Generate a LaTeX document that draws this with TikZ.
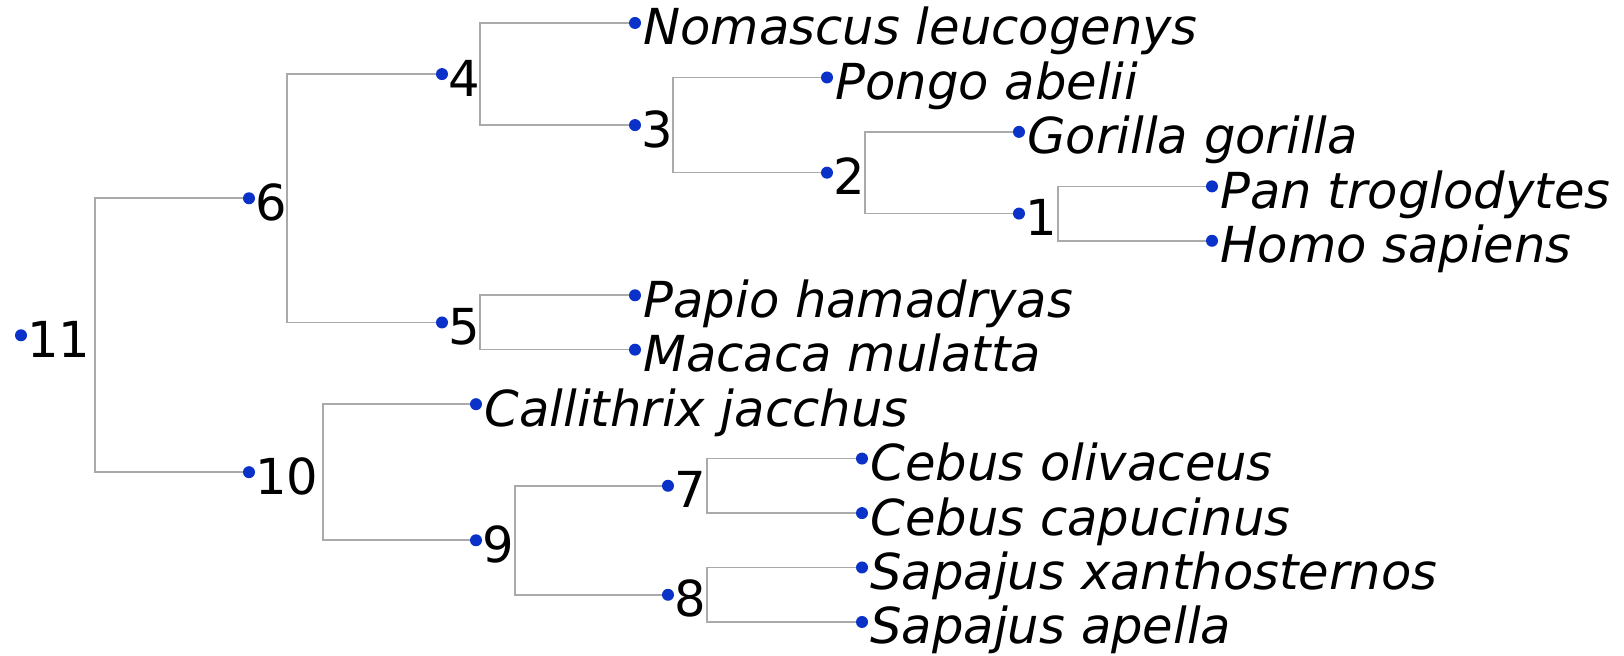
\documentclass[tikz,border=0pt]{standalone}
\usepackage{fontspec}
\setmainfont{DejaVu Sans}
\usetikzlibrary{calc}
\definecolor{dotblue}{RGB}{10,50,200}
\definecolor{branchgray}{RGB}{170,170,170}
\tikzset{
  dotnode/.style={circle, fill=dotblue, inner sep=0pt, minimum size=6pt},
  numlab/.style={anchor=base west, inner sep=0pt, font=\fontsize{24.8}{28}\selectfont},
  taxon/.style={anchor=base west, inner sep=0pt, font=\fontsize{24.8}{28}\selectfont\itshape},
  branch/.style={draw=branchgray, line width=0.8pt}
}
\begin{document}
\begin{tikzpicture}[x=0.5pt,y=-0.5pt]
\useasboundingbox (0,0) rectangle (1624,656);
% internal nodes
\node[dotnode] (d11) at (21,335.3) {};
\node[dotnode] (d6) at (249,198.3) {};
\node[dotnode] (d10) at (249,472.2) {};
\node[dotnode] (d4) at (442,74.1) {};
\node[dotnode] (d5) at (442,322.5) {};
\node[dotnode] (d3) at (635,125.1) {};
\node[dotnode] (d2) at (827,172.7) {};
\node[dotnode] (d1) at (1019,213.6) {};
\node[dotnode] (d9) at (476,540.3) {};
\node[dotnode] (d7) at (668,485.8) {};
\node[dotnode] (d8) at (668,594.8) {};
% leaves
\node[dotnode] (t0) at (635,23) {};
\node[dotnode] (t1) at (827,77.5) {};
\node[dotnode] (t2) at (1019,131.9) {};
\node[dotnode] (t3) at (1212,186.4) {};
\node[dotnode] (t4) at (1212,240.8) {};
\node[dotnode] (t5) at (635,295.3) {};
\node[dotnode] (t6) at (635,349.7) {};
\node[dotnode] (t7) at (476,404.2) {};
\node[dotnode] (t8) at (862,458.6) {};
\node[dotnode] (t9) at (862,513.1) {};
\node[dotnode] (t10) at (862,567.5) {};
\node[dotnode] (t11) at (862,622) {};
% number labels
\foreach \n in {1,...,11}{
  \node[numlab] (l\n) at ($(d\n)+(6,22)$) {\n};
}
% taxon labels
\node[taxon] (s0) at ($(t0)+(8,22)$) {Nomascus leucogenys};
\node[taxon] (s1) at ($(t1)+(8,22)$) {Pongo abelii};
\node[taxon] (s2) at ($(t2)+(8,22)$) {Gorilla gorilla};
\node[taxon] (s3) at ($(t3)+(8,22)$) {Pan troglodytes};
\node[taxon] (s4) at ($(t4)+(8,22)$) {Homo sapiens};
\node[taxon] (s5) at ($(t5)+(8,22)$) {Papio hamadryas};
\node[taxon] (s6) at ($(t6)+(8,22)$) {Macaca mulatta};
\node[taxon] (s7) at ($(t7)+(8,22)$) {Callithrix jacchus};
\node[taxon] (s8) at ($(t8)+(8,22)$) {Cebus olivaceus};
\node[taxon] (s9) at ($(t9)+(8,22)$) {Cebus capucinus};
\node[taxon] (s10) at ($(t10)+(8,22)$) {Sapajus xanthosternos};
\node[taxon] (s11) at ($(t11)+(8,22)$) {Sapajus apella};
% branch points
\coordinate (v11) at (95,335.3);
\coordinate (v6) at (287,198.3);
\coordinate (v4) at (480,74.1);
\coordinate (v3) at (673,125.1);
\coordinate (v2) at (865,172.7);
\coordinate (v1) at (1058,213.6);
\coordinate (v5) at (480,322.5);
\coordinate (v10) at (323,472.2);
\coordinate (v9) at (515,540.3);
\coordinate (v7) at (707,485.8);
\coordinate (v8) at (707,594.8);
% connectors
\draw[branch] (d6) -| (v11) |- (d10);
\draw[branch] (d4) -| (v6) |- (d5);
\draw[branch] (t0) -| (v4) |- (d3);
\draw[branch] (t1) -| (v3) |- (d2);
\draw[branch] (t2) -| (v2) |- (d1);
\draw[branch] (t3) -| (v1) |- (t4);
\draw[branch] (t5) -| (v5) |- (t6);
\draw[branch] (t7) -| (v10) |- (d9);
\draw[branch] (d7) -| (v9) |- (d8);
\draw[branch] (t8) -| (v7) |- (t9);
\draw[branch] (t10) -| (v8) |- (t11);
\end{tikzpicture}
\end{document}
